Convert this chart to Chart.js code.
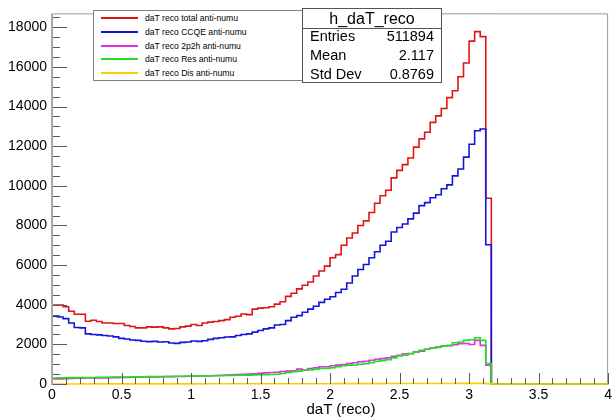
<!DOCTYPE html>
<html>
<head>
<meta charset="utf-8">
<script src="https://cdn.jsdelivr.net/npm/chart.js@4.4.1/dist/chart.umd.min.js"></script>
<style>
html,body{margin:0;padding:0;background:#fff;}
#wrap{position:relative;width:615px;height:418px;overflow:hidden;font-family:"Liberation Sans",Arial,Helvetica,sans-serif;}
#c{position:absolute;left:0;top:0;}
.legend{position:absolute;left:93px;top:10px;width:210px;height:71px;border:1px solid #808080;background:#fff;box-sizing:border-box;}
.legend .row{position:absolute;left:0;width:100%;height:14px;}
.legend .sample{position:absolute;left:7px;top:6px;width:37px;height:2px;}
.legend .txt{position:absolute;left:51px;top:0;font-size:8.6px;line-height:14px;color:#000;white-space:nowrap;}
.stats{position:absolute;left:302px;top:8px;width:140px;height:75px;border:1px solid #555;background:#fff;box-sizing:border-box;color:#000;}
.stats .title{position:absolute;left:0;top:0;width:100%;height:19px;border-bottom:1px solid #555;text-align:center;font-size:16px;line-height:19px;}
.stats .srow{position:absolute;left:0;width:100%;height:19px;font-size:14.5px;line-height:19px;}
.stats .k{position:absolute;left:7px;}
.stats .v{position:absolute;right:7px;}
.xtitle{position:absolute;left:241px;width:200px;top:400px;text-align:center;font-size:15px;line-height:17px;color:#000;}
</style>
</head>
<body>
<div id="wrap">
<canvas id="c" width="615" height="418"></canvas>
<div class="legend" id="legend"></div>
<div class="stats" id="stats"></div>
<div class="xtitle" id="xtitle"></div>
</div>
<script>
// ---- histogram binning ----
const xMin = 0;
const xMax = 4;
const binWidth = 0.04;   // 100 bins from 0 to 4
const yMax = 18700;

// ---- tick labels ----
const xTickLabels = ['0','0.5','1','1.5','2','2.5','3','3.5','4'];
const yTickLabels = ['0','2000','4000','6000','8000','10000','12000','14000','16000','18000'];
const xTitle = 'daT (reco)';

// ---- series names / colours ----
const seriesNames = ['daT reco total anti-numu','daT reco CCQE anti-numu','daT reco 2p2h anti-numu','daT reco Res anti-numu','daT reco Dis anti-numu'];
const seriesColors = ['#e01414','#1414dc','#e030e0','#22dd22','#ffcc00'];

// ---- bin contents (100 bins, bins beyond 3.16 are empty) ----
const totalVals = [3985,3985,3900,3670,3520,3520,3170,3220,3150,3080,
  3080,3050,3050,2950,2900,2830,2830,2880,2870,2880,
  2830,2780,2800,2880,2920,3000,2950,3080,3120,3150,
  3200,3250,3370,3420,3530,3500,3780,3830,3850,3900,
  4030,4150,4420,4580,4800,4980,5150,5450,5700,5950,
  6370,6530,7000,7370,7620,8000,8230,8650,9120,9500,
  9780,10400,10780,11070,11400,11950,12370,12700,13200,13530,
  13900,14450,14800,15500,16200,17300,17780,17530,9370,0,
  0,0,0,0,0,0,0,0,0,0,
  0,0,0,0,0,0,0,0,0,0];
const ccqeVals = [3420,3380,3300,3080,2850,2830,2530,2500,2480,2450,
  2420,2380,2300,2270,2220,2200,2160,2140,2150,2120,
  2130,2070,2050,2100,2120,2170,2150,2180,2250,2300,
  2330,2370,2380,2450,2500,2530,2620,2700,2780,2830,
  2980,3000,3200,3370,3450,3620,3780,3920,4120,4280,
  4400,4620,4780,5100,5450,5780,6030,6370,6670,7000,
  7200,7670,7900,8070,8330,8620,9000,9150,9400,9550,
  9850,10050,10500,10850,11450,12100,12780,12870,7030,0,
  0,0,0,0,0,0,0,0,0,0,
  0,0,0,0,0,0,0,0,0,0];
const p2h2Vals = [250,260,270,280,290,290,300,300,310,310,
  320,320,330,330,340,340,350,350,360,360,
  370,370,380,380,390,400,400,410,420,430,
  440,450,460,480,490,500,520,540,560,580,
  590,630,650,660,750,700,780,820,870,870,
  920,950,980,1030,1070,1120,1150,1200,1250,1280,
  1320,1400,1450,1530,1540,1620,1650,1750,1820,1870,
  1920,1930,1980,2030,2040,1990,2200,1950,950,0,
  0,0,0,0,0,0,0,0,0,0,
  0,0,0,0,0,0,0,0,0,0];
const resVals = [300,310,310,320,320,330,330,330,340,340,
  340,350,350,350,360,360,360,370,370,380,
  380,380,390,390,400,400,400,410,410,420,
  420,430,430,440,450,450,460,470,475,480,
  490,530,580,620,650,700,710,750,780,790,
  820,870,920,950,960,1000,1030,1080,1150,1180,
  1220,1320,1420,1450,1530,1620,1700,1750,1820,1850,
  1920,1950,2080,2120,2200,2230,2330,2200,1030,0,
  0,0,0,0,0,0,0,0,0,0,
  0,0,0,0,0,0,0,0,0,0];
const disVals = [2,3,2,3,3,4,3,4,4,5,
  4,5,5,5,6,5,6,6,7,6,
  7,7,8,7,8,8,9,8,9,9,
  10,9,10,10,11,10,11,11,12,12,
  12,13,13,14,13,14,15,14,15,16,
  16,17,17,18,18,19,19,20,20,21,
  22,22,23,23,24,25,25,26,26,27,
  28,28,29,30,30,31,32,31,15,0,
  0,0,0,0,0,0,0,0,0,0,
  0,0,0,0,0,0,0,0,0,0];

const statsTitle = 'h_daT_reco';
const statsKeys = ['Entries','Mean','Std Dev'];
const statsVals = ['511894','2.117','0.8769'];

const FONT = '"Liberation Sans", Arial, Helvetica, sans-serif';

function toSteps(vals){
  const pts = vals.map((v,i)=>({x: xMin + i*binWidth, y: v}));
  pts.push({x: xMax, y: vals[vals.length-1]});
  return pts;
}

const allVals = [totalVals, ccqeVals, p2h2Vals, resVals, disVals];
const datasets = allVals.map((vals, k) => ({
  label: seriesNames[k],
  data: toSteps(vals),
  borderColor: seriesColors[k],
  borderWidth: 1.6,
  stepped: true,
  fill: false,
  pointRadius: 0,
  tension: 0,
  clip: 4,
  order: 5 - k
}));

const rootAxes = {
  id: 'rootAxes',
  beforeDatasetsDraw(chart){
    const {ctx, chartArea: a} = chart;
    ctx.save();
    ctx.strokeStyle = '#9a9a9a';
    ctx.lineWidth = 1;
    ctx.beginPath();
    ctx.moveTo(a.left, a.top + 0.5);
    ctx.lineTo(a.right - 0.5, a.top + 0.5);
    ctx.lineTo(a.right - 0.5, a.bottom);
    ctx.stroke();
    ctx.restore();
  },
  afterDatasetsDraw(chart){
    const {ctx, chartArea: a, scales} = chart;
    const x = scales.x, y = scales.y;
    ctx.save();
    ctx.strokeStyle = '#5a5a5a';
    ctx.lineWidth = 1;
    ctx.beginPath();
    for (let k = 0; k * 500 <= yMax; k++){
      const p = Math.round(y.getPixelForValue(k*500)) + 0.5;
      const len = (k % 4 === 0) ? 15 : 8;
      ctx.moveTo(a.left, p); ctx.lineTo(a.left + len, p);
    }
    for (let k = 0; k <= 40; k++){
      const p = Math.round(x.getPixelForValue(k*0.1)) + 0.5;
      const len = (k % 5 === 0) ? 11 : 6;
      ctx.moveTo(p, a.bottom); ctx.lineTo(p, a.bottom - len);
    }
    ctx.stroke();
    ctx.strokeStyle = '#a8a8a8';
    ctx.lineWidth = 2;
    ctx.beginPath();
    ctx.moveTo(a.left, a.top); ctx.lineTo(a.left, a.bottom + 1);
    ctx.stroke();
    ctx.restore();
  }
};

new Chart(document.getElementById('c'), {
  type: 'line',
  data: { datasets },
  options: {
    responsive: false,
    animation: false,
    devicePixelRatio: 1,
    layout: { padding: { top: 10, right: 3, left: 0, bottom: 0 } },
    plugins: { legend: { display: false }, tooltip: { enabled: false } },
    scales: {
      x: {
        type: 'linear', min: xMin, max: xMax,
        grid: { display: false, drawTicks: false },
        border: { display: false },
        ticks: {
          autoSkip: false, maxRotation: 0, padding: 3,
          color: '#000', font: { family: FONT, size: 14 },
          callback: (v, i) => xTickLabels[i]
        },
        afterBuildTicks: s => {
          s.ticks = xTickLabels.map(l => ({ value: parseFloat(l) }));
          s.min = xMin; s.max = xMax;
        },
        afterFit: s => { s.height = 34; }
      },
      y: {
        type: 'linear', min: 0, max: yMax,
        grid: { display: false, drawTicks: false },
        border: { display: false },
        ticks: {
          autoSkip: false, padding: 5,
          color: '#000', font: { family: FONT, size: 14 },
          callback: (v, i) => yTickLabels[i]
        },
        afterBuildTicks: s => {
          s.ticks = yTickLabels.map(l => ({ value: parseFloat(l) }));
          s.min = 0; s.max = yMax;
        },
        afterFit: s => { s.width = 52; }
      }
    }
  },
  plugins: [rootAxes]
});

// legend
const lg = document.getElementById('legend');
seriesNames.forEach((n, k) => {
  const r = document.createElement('div');
  r.className = 'row';
  r.style.top = (0 + k * 13.8) + 'px';
  r.innerHTML = '<div class="sample" style="background:' + seriesColors[k] + '"></div><div class="txt"></div>';
  r.querySelector('.txt').textContent = n;
  lg.appendChild(r);
});
// stats box
const st = document.getElementById('stats');
const t = document.createElement('div'); t.className = 'title'; t.textContent = statsTitle; st.appendChild(t);
statsKeys.forEach((kname, k) => {
  const r = document.createElement('div');
  r.className = 'srow';
  r.style.top = (18 + k * 19) + 'px';
  const a = document.createElement('span'); a.className = 'k'; a.textContent = kname;
  const b = document.createElement('span'); b.className = 'v'; b.textContent = statsVals[k];
  r.appendChild(a); r.appendChild(b); st.appendChild(r);
});
document.getElementById('xtitle').textContent = xTitle;
</script>
</body>
</html>
